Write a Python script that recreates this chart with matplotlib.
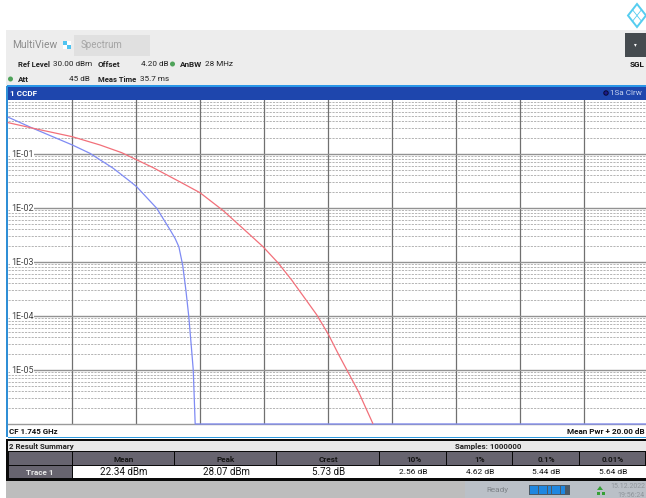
import matplotlib
matplotlib.use("Agg")
import matplotlib.pyplot as plt
import matplotlib.ticker as ticker
from matplotlib.patches import Rectangle, Polygon, Circle

plt.rcParams['font.family'] = ['Roboto', 'DejaVu Sans']

# trace values, dB above mean power vs. complementary probability
blue_db = [0.01, 0.78, 2.01, 2.56, 3.29, 3.76, 4.02, 4.65, 5.07, 5.22, 5.34, 5.46, 5.56, 5.65, 5.73, 5.79, 5.85, 19.94]
blue_ccdf = [0.479, 0.299, 0.147, 0.103, 0.0543, 0.033, 0.0248, 0.00986, 0.0039, 0.00275, 0.00192, 8.7e-4, 3e-4, 9.8e-5, 2.7e-5, 1e-5, 1e-6, 1e-6]
red_db = [0.01, 0.79, 2.01, 2.875, 3.55, 4.54, 5.40, 6.0, 6.73, 7.51, 7.97, 8.45, 8.87, 9.30, 9.65, 10.01, 10.32, 10.62, 10.95, 11.4]
red_ccdf = [0.38, 0.299, 0.209, 0.147, 0.106, 0.0557, 0.0299, 0.0192, 0.0089, 0.0034, 0.00192, 9.5e-4, 4.6e-4, 2.04e-4, 1.05e-4, 4.6e-5, 2e-5, 9.3e-6, 4e-6, 1.03e-6]

y_labels = ['1E-01', '1E-02', '1E-03', '1E-04', '1E-05']
y_values = [1e-1, 1e-2, 1e-3, 1e-4, 1e-5]

col_names = ['Mean', 'Peak', 'Crest', '10%', '1%', '0.1%', '0.01%']
col_values = ['22.34 dBm', '28.07 dBm', '5.73 dB', '2.56 dB', '4.62 dB', '5.44 dB', '5.64 dB']
col_edges = [73, 175, 277, 380, 447, 513, 580, 646]

W, H = 646, 498
fig = plt.figure(figsize=(W / 100, H / 100), dpi=100, facecolor='white')

# whole window drawn in pixel coordinates
bg = fig.add_axes([0, 0, 1, 1])
bg.set_xlim(0, W)
bg.set_ylim(H, 0)
bg.axis('off')


def box(x0, y0, x1, y1, color):
    bg.add_patch(Rectangle((x0, y0), x1 - x0, y1 - y0, fc=color, ec='none'))


def label(x, y, s, size=5.9, color='#222222', ha='left', weight='normal'):
    bg.text(x, y, s, fontsize=size, color=color, ha=ha, va='center', weight=weight)


# header
box(6, 30, W, 86, '#ededed')
box(74, 35, 150, 56, '#e0e0e0')
box(63, 41, 67, 45, '#4fc3f0')
box(67, 41, 71, 45, '#ffffff')
box(63, 45, 67, 49, '#ffffff')
box(67, 45, 71, 49, '#4fc3f0')
box(625, 33, W, 57, '#454b4f')
label(12, 45, 'MultiView', size=7.4, color='#8c8c8c')
label(81, 45, 'Spectrum', size=7.0, color='#a5a5a5')
label(635, 45, '▾', size=4, color='white', ha='center')
label(637, 64, 'SGL', color='#111111', ha='center', weight='bold')
label(18, 64, 'Ref Level', size=5.5, weight='bold')
label(53, 64, '30.00 dBm')
label(98, 64, 'Offset', weight='bold')
label(141, 64, '4.20 dB')
label(180, 64, 'AnBW', weight='bold')
label(205, 64, '28 MHz')
label(18, 79, 'Att', weight='bold')
label(69, 79, '45 dB')
label(98, 79, 'Meas Time', size=5.5, weight='bold')
label(140, 79, '35.7 ms')
bg.add_patch(Circle((172.5, 64), 2.5, fc='#4fa35a', ec='none'))
bg.add_patch(Circle((10.5, 79), 2.5, fc='#4fa35a', ec='none'))

# R&S logo
bg.add_patch(Polygon([(637, 4), (646, 15.5), (637, 27), (628, 15.5)], closed=True, fc='none', ec='#55cdf0', lw=1.4))
bg.plot([632.5, 641.5], [9.75, 21.25], color='#55cdf0', lw=0.6)
bg.plot([632.5, 641.5], [21.25, 9.75], color='#55cdf0', lw=0.6)

# title bar of the trace window
box(7, 86, W, 100, '#1e46ad')
box(7, 85, W, 87, '#2a97e8')
box(6, 86, 8, 437, '#2f8fd6')
label(10, 93, '1 CCDF', color='white', weight='bold')
bg.add_patch(Circle((606, 93), 2.2, fc='#1a1a8c', ec='#0a0a30', lw=0.7))
label(610, 93, '1Sa Clrw', color='#c6d2ee')

# footer strip under the trace
box(8, 437, W, 438, '#2f9be0')
label(9, 431, 'CF 1.745 GHz', size=5.7, color='#111111', weight='bold')
label(645, 431, 'Mean Pwr + 20.00 dB', color='#111111', ha='right', weight='bold')

# result summary
box(6, 439, W, 481, '#0a0a0a')
box(8, 441, W, 451, '#e9e9e9')
label(9, 446, '2 Result Summary', size=5.7, color='#222222', weight='bold')
label(488, 446, 'Samples: 1000000', size=5.7, color='#222222', ha='center', weight='bold')
box(9, 452, 72, 465, '#67646f')
box(9, 466, 72, 478, '#67646f')
label(40, 472, 'Trace 1', color='#e8e8e8', ha='center', weight='bold')
for i in range(len(col_names)):
    x0, x1 = col_edges[i], col_edges[i + 1]
    box(x0, 452, x1 - 1, 465, '#67646f')
    box(x0 - 0.5, 466, x1, 478, 'white')
    xc = (x0 + x1) / 2
    label(xc, 459, col_names[i], color='#141414', ha='center', weight='bold')
    size = 7.0 if i < 3 else 6.0
    label(xc, 472, col_values[i], size=size, color='#111111', ha='center')

# status bar
box(6, 481, 465, H, '#bdbdbd')
box(465, 481, W, H, '#bac0c7')
label(497, 490, 'Ready', color='#7e8388', ha='center')
box(529, 485, 570, 495, '#4c5a66')
for i in range(8):
    box(530 + i * 4.4, 486, 533.7 + i * 4.4, 494, '#1f87e0')
label(645, 486, '15.12.2022', size=5, color='#8f959b', ha='right')
label(645, 495, '19:56:24', size=5, color='#8f959b', ha='right')
bg.add_patch(Polygon([(600, 486), (603, 490), (597, 490)], closed=True, fc='#35a035', ec='none'))
box(597, 492, 600, 495, '#35a035')
box(601.5, 492, 604.5, 495, '#35a035')

# the trace itself, 0 to 20 dB over mean power
ax = fig.add_axes([8 / W, 1 - 424 / H, (W - 8) / W, 324 / H], facecolor='white')
ax.set_xlim(0, 19.94)
ax.set_ylim(1e-6, 1)
ax.set_yscale('log')
for s in ax.spines.values():
    s.set_visible(False)
ax.tick_params(which='both', left=False, bottom=False, labelleft=False, labelbottom=False)
ax.yaxis.set_major_locator(ticker.LogLocator(base=10, numticks=10))
ax.yaxis.set_minor_locator(ticker.LogLocator(base=10, subs=range(2, 10), numticks=10))
ax.yaxis.set_minor_formatter(ticker.NullFormatter())
ax.grid(which='minor', axis='y', color='#b4b4b4', lw=0.7, ls=(0, (2.2, 1.2)))
ax.set_axisbelow(True)

for v in range(2, 20, 2):
    ax.axvline(v, color='#707070', lw=0.9, zorder=1)
for v in y_values:
    ax.plot([0.72, 20], [v, v], color='#929292', lw=1.0, zorder=1)
ax.plot([0, 20], [1e-6, 1e-6], color='#9a9a9a', lw=1.0, zorder=1, clip_on=False)

ax.plot(blue_db, blue_ccdf, color='#7f8bf4', lw=0.9, zorder=3, clip_on=False)
ax.plot(red_db, red_ccdf, color='#f2707a', lw=0.9, zorder=3, clip_on=False)

for v, s in zip(y_values, y_labels):
    ax.text(0.1, v, s, fontsize=6.4, color='#444444', va='center', ha='left', zorder=4,
            bbox=dict(fc='white', ec='none', pad=0.6))

fig.savefig('out.png', dpi=100)
